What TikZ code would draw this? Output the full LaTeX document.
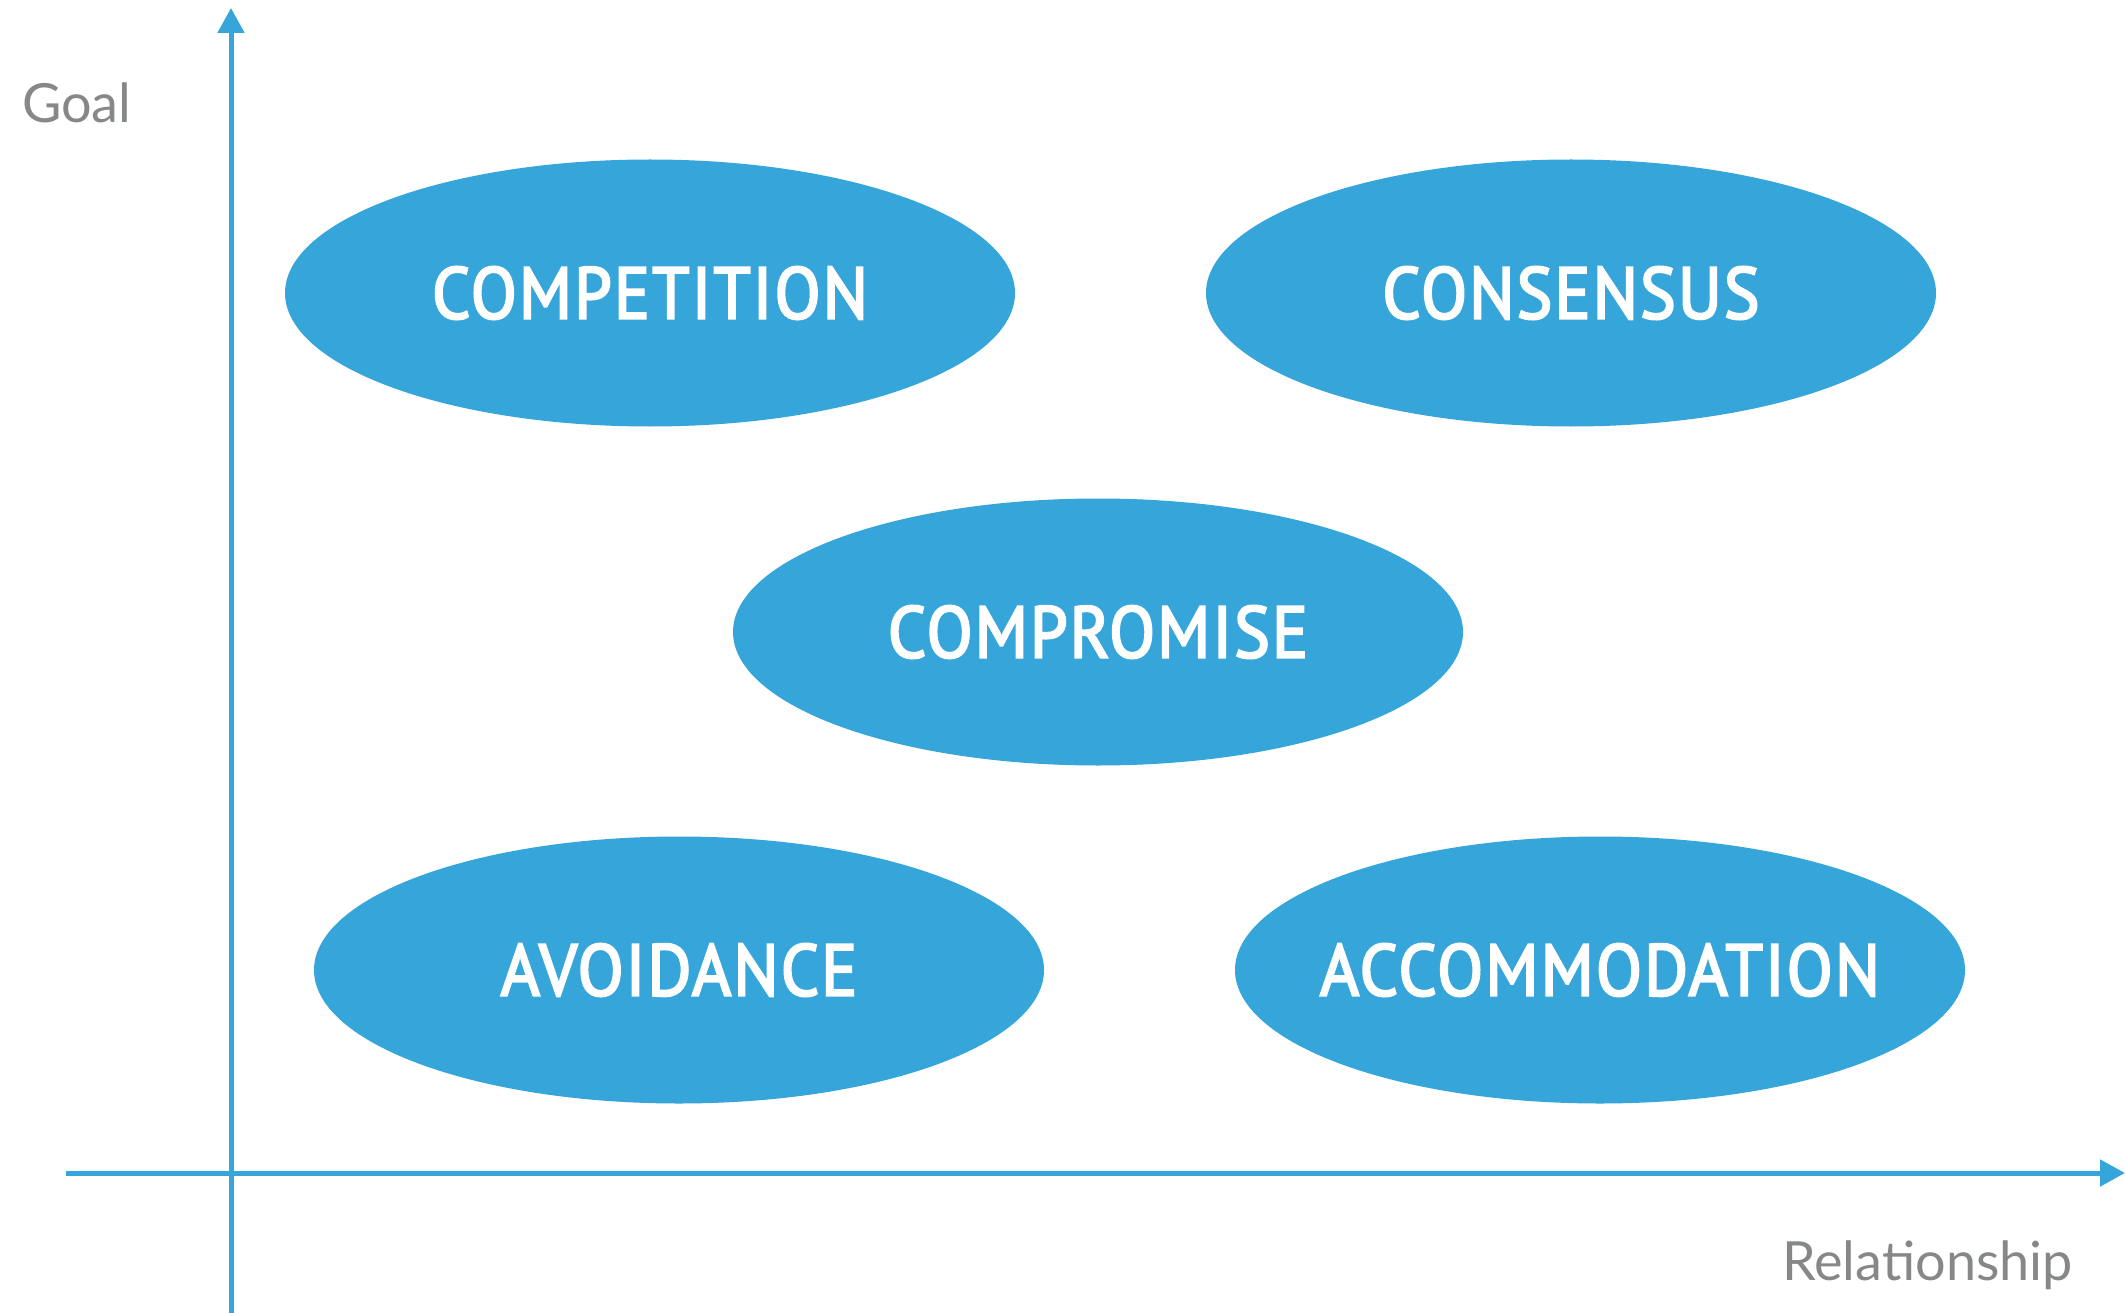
\documentclass[tikz,border=0pt]{standalone}
\usepackage{fontspec}
\setmainfont{PT Sans}
\newfontfamily\modefont[FakeStretch=0.92,LetterSpace=3,FakeBold=3]{PT Sans}
\newfontfamily\labelfont{Lato}
\usetikzlibrary{shapes.geometric,positioning,arrows.meta}
\definecolor{modeblue}{RGB}{53,165,218}
\definecolor{labelgray}{RGB}{134,136,136}

\begin{document}
\begin{tikzpicture}[x=1pt,y=-1pt,node distance=921pt,on grid,
  mode/.style={ellipse,fill=modeblue,text=white,minimum width=730pt,minimum height=267pt,inner ysep=0pt,inner xsep=-60pt,font=\modefont\fontsize{73}{76}\selectfont},
  axis/.style={draw=modeblue,line width=5pt,-{Triangle[length=25pt,width=26pt]}},
  axislabel/.style={text=labelgray,font=\labelfont\fontsize{54}{60}\selectfont,inner sep=0pt}]
  \useasboundingbox (0,0) rectangle (2125,1313);
  \coordinate (ybot) at (231,1313);
  \coordinate (ytop) at (231,8);
  \coordinate (xleft) at (66,1173);
  \coordinate (xright) at (2125,1173);
  \path[axis] (xleft) -- (xright);
  \path[axis] (ybot) -- (ytop);
  \node[mode] (comp) at (650,293) {COMPETITION};
  \node[mode] (cons) [right = of comp] {CONSENSUS};
  \node[mode] (cmpr) [below right = 339pt and 448pt of comp] {COMPROMISE};
  \node[mode] (avoid) [below right = 677pt and 29pt of comp] {AVOIDANCE};
  \node[mode] (accom) [right = of avoid] {ACCOMMODATION};
  \node[axislabel,anchor=base west] (goal) at (22,123) {Goal};
  \node[axislabel,anchor=base east] (rel) at (2073,1280) {Relationship};
\end{tikzpicture}
\end{document}
